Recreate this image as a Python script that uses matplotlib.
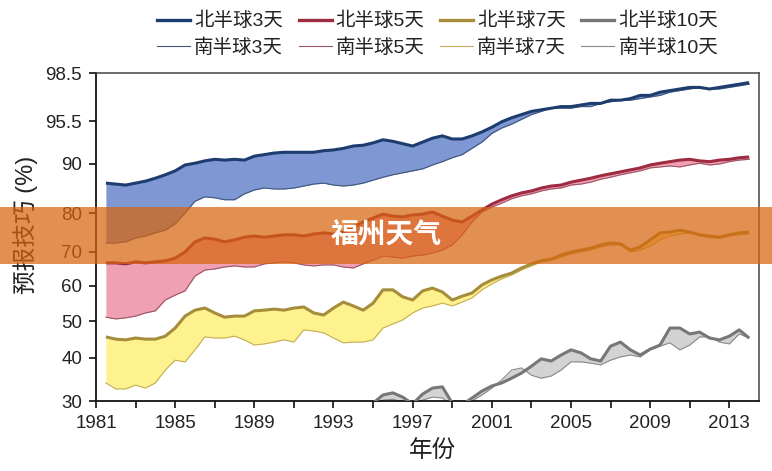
import numpy as np
import matplotlib
matplotlib.use('Agg')
import matplotlib.pyplot as plt
from matplotlib.lines import Line2D
from matplotlib.patches import Rectangle

plt.rcParams['font.family'] = ['Liberation Sans', 'Noto Sans CJK SC']

# half-year steps, values
years = np.arange(1981.5, 2014.01, 0.5)
years_10 = np.arange(1995.0, 2014.01, 0.5)

nh3 = [86.1,
       85.9, 85.7, 86.1, 86.5, 87.1, 87.8, 88.6, 89.8, 90.1, 90.4,
       90.6, 90.5, 90.6, 90.5, 91.0, 91.2, 91.4, 91.5, 91.5, 91.5,
       91.5, 91.7, 91.8, 92.0, 92.3, 92.4, 92.7, 93.1, 92.9, 92.6,
       92.3, 92.8, 93.3, 93.6, 93.2, 93.2, 93.6, 94.1, 94.7, 95.4,
       95.7, 95.9, 96.1, 96.2, 96.3, 96.4, 96.4, 96.5, 96.6, 96.6,
       96.8, 96.8, 96.9, 97.1, 97.1, 97.3, 97.4, 97.5, 97.6, 97.6,
       97.5, 97.6, 97.7, 97.8,
       97.9]
sh3 = [72.3,
       72.3, 72.6, 73.6, 74.1, 74.9, 75.6, 77.2, 80.0, 82.4, 83.3,
       83.1, 82.7, 82.7, 83.9, 84.7, 85.1, 84.9, 84.9, 85.1, 85.5,
       85.9, 86.1, 85.7, 85.5, 85.7, 86.1, 86.7, 87.3, 87.8, 88.2,
       88.6, 89.0, 89.8, 90.3, 90.8, 91.2, 92.0, 92.8, 93.9, 94.6,
       95.1, 95.6, 95.9, 96.1, 96.3, 96.3, 96.3, 96.4, 96.4, 96.6,
       96.7, 96.8, 96.8, 96.9, 97.0, 97.1, 97.3, 97.4, 97.5, 97.6,
       97.5, 97.5, 97.6, 97.7,
       97.8]
nh5 = [66.8,
       66.8, 66.5, 67.1, 66.8, 67.1, 67.4, 68.2, 70.0, 72.6, 73.6,
       73.3, 72.6, 73.1, 73.8, 74.1, 73.8, 74.1, 74.4, 74.4, 74.1,
       74.6, 74.9, 74.6, 75.1, 76.4, 77.7, 78.7, 79.7, 79.2, 79.0,
       79.5, 79.7, 80.2, 79.2, 78.2, 77.7, 79.2, 80.6, 81.8, 82.7,
       83.5, 84.1, 84.5, 85.1, 85.5, 85.7, 86.3, 86.7, 87.1, 87.6,
       88.0, 88.4, 88.8, 89.2, 89.8, 90.1, 90.3, 90.5, 90.6, 90.4,
       90.3, 90.5, 90.6, 90.8,
       90.9]
sh5 = [51.1,
       50.6, 50.9, 51.4, 52.3, 52.9, 56.0, 57.4, 58.6, 62.9, 64.7,
       65.0, 65.6, 65.9, 65.6, 65.6, 66.5, 66.8, 67.1, 66.8, 66.2,
       65.9, 66.2, 66.2, 65.6, 65.3, 66.5, 67.6, 68.8, 68.5, 68.2,
       68.8, 69.1, 69.7, 70.5, 71.8, 74.4, 77.7, 80.2, 81.2, 82.0,
       82.9, 83.5, 83.9, 84.5, 84.9, 85.1, 85.7, 85.9, 86.3, 86.9,
       87.3, 87.8, 88.2, 88.6, 89.2, 89.4, 89.6, 89.4, 89.8, 90.1,
       89.8, 90.0, 90.3, 90.5,
       90.6]
nh7 = [45.7,
       45.1, 44.9, 45.4, 45.1, 45.1, 45.9, 48.1, 51.4, 53.1, 53.7,
       52.3, 51.1, 51.4, 51.4, 52.9, 53.1, 53.4, 53.1, 53.7, 54.0,
       52.3, 51.7, 53.7, 55.4, 54.3, 53.1, 55.1, 58.9, 58.9, 56.9,
       56.0, 58.6, 59.4, 58.3, 56.0, 57.1, 58.0, 60.3, 61.8, 62.9,
       63.8, 65.3, 66.5, 67.4, 67.9, 69.1, 70.0, 70.5, 71.0, 71.8,
       72.3, 72.1, 70.5, 71.3, 73.1, 74.9, 75.1, 75.6, 75.1, 74.4,
       74.1, 73.8, 74.4, 74.9,
       75.1]
sh7 = [34.2,
       32.8, 32.8, 33.7, 33.0, 34.2, 37.2, 39.5, 39.1, 42.2, 45.7,
       45.4, 45.4, 45.9, 44.9, 43.5, 43.8, 44.3, 44.9, 44.3, 47.6,
       47.3, 46.8, 45.4, 44.1, 44.3, 44.3, 44.9, 48.1, 49.2, 50.3,
       52.3, 53.7, 54.3, 55.1, 54.3, 55.4, 56.6, 58.9, 60.6, 62.1,
       63.2, 64.7, 65.9, 67.1, 67.6, 68.5, 69.4, 70.0, 70.5, 71.3,
       71.8, 71.8, 70.0, 70.5, 71.5, 73.1, 74.1, 74.6, 74.9, 74.1,
       73.6, 73.6, 74.1, 74.4,
       74.6]
nh10 = [29.5, 31.4, 31.9, 30.9, 29.3, 31.6, 33.0, 33.3, 29.5, 29.1,
        30.7, 32.3, 33.5, 34.2, 35.3, 36.5, 38.1, 39.8, 39.3, 40.8,
        42.2, 41.4, 39.8, 39.3, 43.2, 44.3, 42.2, 40.8, 42.4, 43.5,
        48.1, 48.1, 46.5, 47.0, 45.4, 44.9, 45.9, 47.6,
        45.4]
sh10 = [29.0, 30.2, 30.4, 29.8, 29.0, 30.2, 30.9, 30.7, 29.0, 29.1,
        30.0, 31.4, 33.0, 34.9, 37.2, 37.7, 36.0, 35.3, 35.8, 37.2,
        39.1, 39.1, 38.8, 38.4, 39.5, 40.3, 40.8, 40.3, 42.2, 43.2,
        44.1, 42.2, 43.5, 45.7, 45.7, 44.3, 43.8, 46.5,
        45.4]

y_ticks = [30, 40, 50, 60, 70, 80, 90, 95.5, 98.5]
y_tick_labels = ['30', '40', '50', '60', '70', '80', '90', '95.5', '98.5']
x_ticks = list(range(1981, 2015, 2))
x_tick_labels = [str(y) if (y - 1981) % 4 == 0 else '' for y in x_ticks]

# the original y axis is stretched unevenly: knots of a piecewise-linear scale
knot_vals = np.array([0, 30, 40, 50, 60, 70, 80, 90, 95.5, 98.5, 100])
knot_pos = np.array([-129, 0, 43, 80, 115, 149, 188, 237, 280, 328, 352], dtype=float)


def fwd(v):
    return np.interp(v, knot_vals, knot_pos)


def inv(p):
    return np.interp(p, knot_pos, knot_vals)


series = [
    ('北半球3天', '南半球3天', years, nh3, sh3, '#1c3d6e', '#3e5677', '#7f97d3'),
    ('北半球5天', '南半球5天', years, nh5, sh5, '#9e2b40', '#9b5563', '#f0a0b5'),
    ('北半球7天', '南半球7天', years, nh7, sh7, '#a68d3c', '#c4ad5a', '#fdf28e'),
    ('北半球10天', '南半球10天', years_10, nh10, sh10, '#777777', '#8a8a8a', '#d3d3d3'),
]

fig = plt.figure(figsize=(7.72, 4.71), dpi=100)
ax = fig.add_axes([96 / 772, 70 / 471, 663 / 772, 328 / 471])
ax.set_yscale('function', functions=(fwd, inv))

handles = []
for nh_name, sh_name, x, nh, sh, nh_col, sh_col, fill_col in series:
    ax.fill_between(x, nh, sh, color=fill_col, lw=0, zorder=1)
    ax.plot(x, sh, color=sh_col, lw=0.8, zorder=2)
    ax.plot(x, nh, color=nh_col, lw=2.2, zorder=3, solid_capstyle='butt')
    handles.append(Line2D([], [], color=nh_col, lw=2.4, label=nh_name))
    handles.append(Line2D([], [], color=sh_col, lw=0.8, label=sh_name))

ax.set_xlim(1981, 2014.5)
ax.set_ylim(30, 98.5)
ax.set_yticks(y_ticks)
ax.set_yticklabels(y_tick_labels)
ax.yaxis.set_minor_locator(matplotlib.ticker.NullLocator())
ax.set_xticks(x_ticks)
ax.set_xticklabels(x_tick_labels)
ax.tick_params(axis='both', direction='out', length=5, width=1.3,
               labelsize=13.5, colors='#222222', pad=5)

for side in ['left', 'bottom']:
    ax.spines[side].set_linewidth(1.3)
    ax.spines[side].set_color('#111111')
for side in ['top', 'right']:
    ax.spines[side].set_linewidth(1.1)
    ax.spines[side].set_color('#444444')

ax.set_ylabel('预报技巧 (%)', fontsize=17, color='#222222')
ax.yaxis.set_label_coords(-0.088, 0.537)
ax.set_xlabel('年份', fontsize=17, color='#222222')
ax.xaxis.set_label_coords(0.507, -0.118)

fig.legend(handles=handles, loc='center', bbox_to_anchor=(0.567, 0.927),
           ncol=4, frameon=False, fontsize=14, handlelength=1.7,
           handletextpad=0.2, columnspacing=0.8, labelspacing=0.4,
           borderpad=0, labelcolor='#222222')

# orange watermark banner across the middle
band = Rectangle((0, 207 / 471), 1, 57 / 471, transform=fig.transFigure,
                 facecolor='#d8650f', alpha=0.72, lw=0, zorder=10)
fig.add_artist(band)
fig.text(386 / 772, 1 - 236 / 471, '福州天气', color='white', fontsize=20,
         fontweight='bold', family=['Noto Sans CJK SC'], ha='center',
         va='center', zorder=11)

fig.savefig('out.png', dpi=100)
